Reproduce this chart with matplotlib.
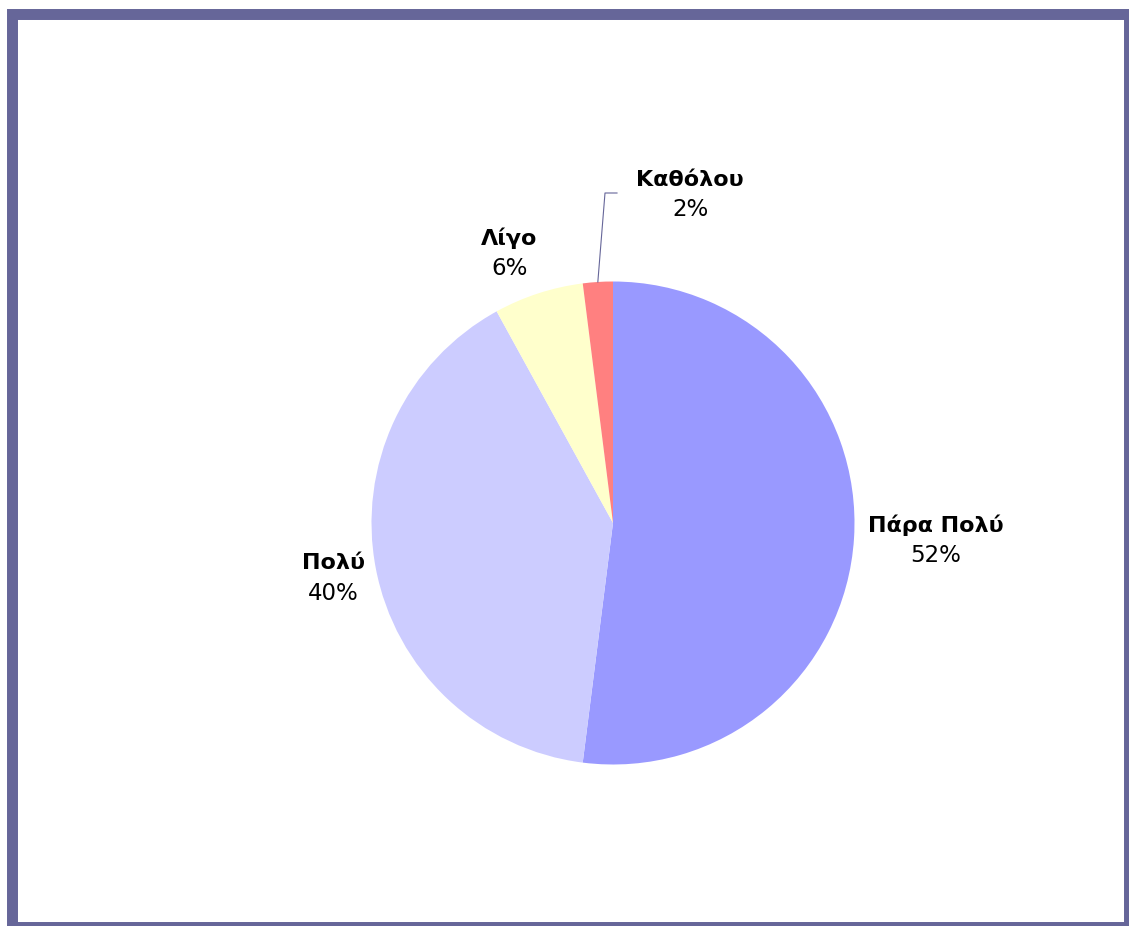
import numpy as np
import matplotlib.pyplot as plt
from matplotlib.patches import Rectangle

# Απαντήσεις και ποσοστά
labels = ['Πάρα Πολύ', 'Πολύ', 'Λίγο', 'Καθόλου']
values = [52, 40, 6, 2]
colors = ['#9999FF', '#CCCCFF', '#FFFFCC', '#FF8080']

W, H = 1129, 926
fig = plt.figure(figsize=(W / 100, H / 100), dpi=100)
ax = fig.add_axes([0, 0, 1, 1])

cx, cy, r = 613, H - 523, 241.5
wedges, _ = ax.pie(values, colors=colors, startangle=90, counterclock=False,
                   center=(cx, cy), radius=r, frame=True,
                   wedgeprops=dict(linewidth=0))
ax.set_xlim(0, W)
ax.set_ylim(0, H)
ax.set_aspect('equal')
ax.axis('off')

# πλαίσιο γύρω από το γράφημα
ax.add_patch(Rectangle((11.5, -0.5), 1117, 913, fill=False,
                       edgecolor='#666699', linewidth=7.9))

# απόσταση ετικέτας από το κέντρο (σε ακτίνες) και μικρή μετατόπιση
dist = [1.33, 1.18, 1.2, 1.0]
shift = [(2, 3), (0, -2), (-14, -6), (0, 0)]
total = sum(values)
for i, (w, lab, v) in enumerate(zip(wedges, labels, values)):
    ang = np.deg2rad((w.theta1 + w.theta2) / 2)
    if lab == 'Καθόλου':
        tx, ty = 690, H - 195
        # γραμμή οδηγός
        x0, y0 = cx + r * np.cos(ang), cy + r * np.sin(ang)
        ax.plot([x0, 605, 617], [y0, H - 193, H - 193],
                color='#666699', linewidth=0.8)
    else:
        tx = cx + dist[i] * r * np.cos(ang) + shift[i][0]
        ty = cy + dist[i] * r * np.sin(ang) + shift[i][1]
    ax.text(tx, ty + 15, lab, ha='center', va='center', fontsize=16,
            fontweight='bold', family='DejaVu Sans')
    ax.text(tx, ty - 15, f'{v / total * 100:.0f}%', ha='center', va='center',
            fontsize=16.5, family='DejaVu Sans')

fig.savefig('out.png', dpi=100, facecolor='white')
